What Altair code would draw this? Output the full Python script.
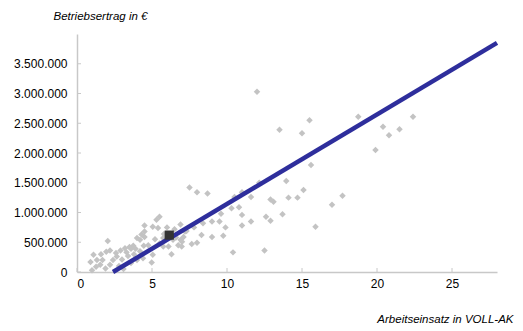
import altair as alt
import pandas as pd

# scatter points: labour input (VOLL-AK) vs. operating revenue (EUR)
px = [12.0, 13.5, 15.5, 15.0, 18.75, 15.6, 13.95, 15.1, 14.1, 14.7, 17.7, 17.0, 15.9, 13.7,
      12.9, 12.6, 13.1, 12.9, 12.5, 10.4, 11.6, 11.0, 11.0, 10.8, 10.3, 11.6, 11.0, 10.5,
      12.15, 9.6, 9.9, 9.75, 9.0, 9.0, 9.5, 8.4, 8.0, 7.65, 8.0, 8.7, 7.5, 20.4, 20.8, 21.5,
      22.4, 19.9,
      5.5, 5.3, 4.5, 5.05, 5.4, 4.3, 4.5, 4.2, 4.0, 4.45, 4.75, 3.75, 3.6, 3.9, 4.0, 4.98,
      4.4, 6.3, 6.9, 6.5, 7.1, 6.75, 6.98, 5.75, 5.5, 5.75, 6.1, 6.4, 6.9, 7.2, 5.05, 2.05,
      1.1, 1.95, 2.2, 1.0, 1.27, 0.9, 1.33, 1.55, 1.9, 2.9, 3.2, 3.5, 2.65, 2.4, 3.0, 3.4,
      4.5, 6.6, 7.3, 7.0, 1.7, 3.3, 2.8, 3.6, 2.2, 1.6, 5.8, 6.0, 3.1, 2.6, 4.2, 3.8, 5.2,
      8.3, 7.8]
py = [3.03, 2.39, 2.55, 2.33, 2.61, 1.8, 1.53, 1.38, 1.25, 1.25, 1.28, 1.13, 0.76, 0.97,
      0.86, 0.93, 1.18, 1.22, 0.36, 0.33, 0.85, 0.78, 0.96, 1.09, 1.07, 1.26, 1.34, 1.26,
      1.5, 0.98, 0.75, 0.61, 0.59, 0.85, 0.85, 0.82, 0.49, 0.47, 1.34, 1.32, 1.42, 2.44, 2.3,
      2.4, 2.61, 2.05,
      0.93, 0.88, 0.78, 0.76, 0.74, 0.63, 0.59, 0.54, 0.57, 0.44, 0.45, 0.44, 0.39, 0.39,
      0.2, 0.16, 0.23, 0.30, 0.80, 0.72, 0.59, 0.45, 0.43, 0.57, 0.48, 0.43, 0.43, 0.54,
      0.54, 0.68, 0.29, 0.52, 0.29, 0.34, 0.36, 0.03, 0.09, 0.17, 0.2, 0.12, 0.06, 0.36,
      0.4, 0.42, 0.26, 0.2, 0.21, 0.27, 0.68, 0.58, 0.69, 0.51, 0.2, 0.33, 0.1, 0.15, 0.12,
      0.3, 0.64, 0.75, 0.05, 0.32, 0.35, 0.3, 0.55, 0.62, 0.75]

# highlighted average farm
avg_x = [6.15]
avg_y = [620000]

# regression line end points
line_x = [2.4, 28]
line_y = [0, 3850000]

x_ticks = [0, 5, 10, 15, 20, 25]
y_ticks = [0, 500000, 1000000, 1500000, 2000000, 2500000, 3000000, 3500000]

pts = pd.DataFrame({"x": px, "y": [v * 1_000_000 for v in py]})
avg = pd.DataFrame({"x": avg_x, "y": avg_y})
line = pd.DataFrame({"x": line_x, "y": line_y})
yt = pd.DataFrame({"y": y_ticks})
xt = pd.DataFrame({"x": x_ticks})

xs = alt.Scale(domain=[0, 28], nice=False, zero=False)
ys = alt.Scale(domain=[0, 4000000], nice=False)

label_expr = "replace(replace(format(datum.value, ','), ',', '.'), ',', '.')"

x_axis = alt.Axis(values=x_ticks, grid=False, ticks=False, domainColor="#C8C8C8",
                  domainWidth=1.5, labelFontSize=12, labelColor="#000", labelPadding=6,
                  labelFont="Liberation Sans", labelOverlap=False,
                  title="Arbeitseinsatz in VOLL-AK",
                  titleFont="Liberation Sans", titleFontStyle="italic", titleFontWeight="normal",
                  titleFontSize=11.5, titleColor="#000", titleAlign="right", titleX=436,
                  titleY=50, titleBaseline="alphabetic")
y_axis = alt.Axis(values=y_ticks, grid=False, ticks=False, domainColor="#C8C8C8",
                  domainWidth=1.5, labelFontSize=12, labelColor="#000", labelPadding=10,
                  labelFont="Liberation Sans", labelExpr=label_expr, labelOverlap=False,
                  title="Betriebsertrag in €", titleFont="Liberation Sans",
                  titleFontStyle="italic", titleFontWeight="normal", titleFontSize=11.5,
                  titleColor="#000", titleAngle=0, titleAlign="center", titleX=23,
                  titleY=-18, titleBaseline="middle")

points = alt.Chart(pts).mark_point(shape="diamond", filled=True, size=42,
                                   color="#C3C3C3", opacity=1).encode(
    x=alt.X("x:Q", scale=xs, axis=x_axis),
    y=alt.Y("y:Q", scale=ys, axis=y_axis),
)

reg = alt.Chart(line).mark_line(color="#2E2E9C", strokeWidth=4.5).encode(
    x=alt.X("x:Q", scale=xs, axis=x_axis), y=alt.Y("y:Q", scale=ys, axis=y_axis))

square = alt.Chart(avg).mark_point(shape="square", filled=True, size=85,
                                   color="#333333", opacity=1).encode(
    x=alt.X("x:Q", scale=xs, axis=x_axis), y=alt.Y("y:Q", scale=ys, axis=y_axis))

yticks = alt.Chart(yt).mark_rule(color="#C8C8C8", strokeWidth=1).encode(
    x=alt.value(0), x2=alt.value(4), y=alt.Y("y:Q", scale=ys, axis=y_axis))
xticks = alt.Chart(xt).mark_rule(color="#C8C8C8", strokeWidth=1).encode(
    x=alt.X("x:Q", scale=xs, axis=x_axis), y=alt.value(238), y2=alt.value(234))

chart = alt.layer(points, yticks, xticks, reg, square).properties(
    width=420, height=238,
    autosize=alt.AutoSizeParams(type="none"),
    padding={"left": 69, "top": 26, "right": 18, "bottom": 51},
    background="white",
).configure_view(strokeWidth=0).configure_axis(labelOverlap=False)

chart.save("out.html", embed_options={"renderer": "svg", "actions": False})
